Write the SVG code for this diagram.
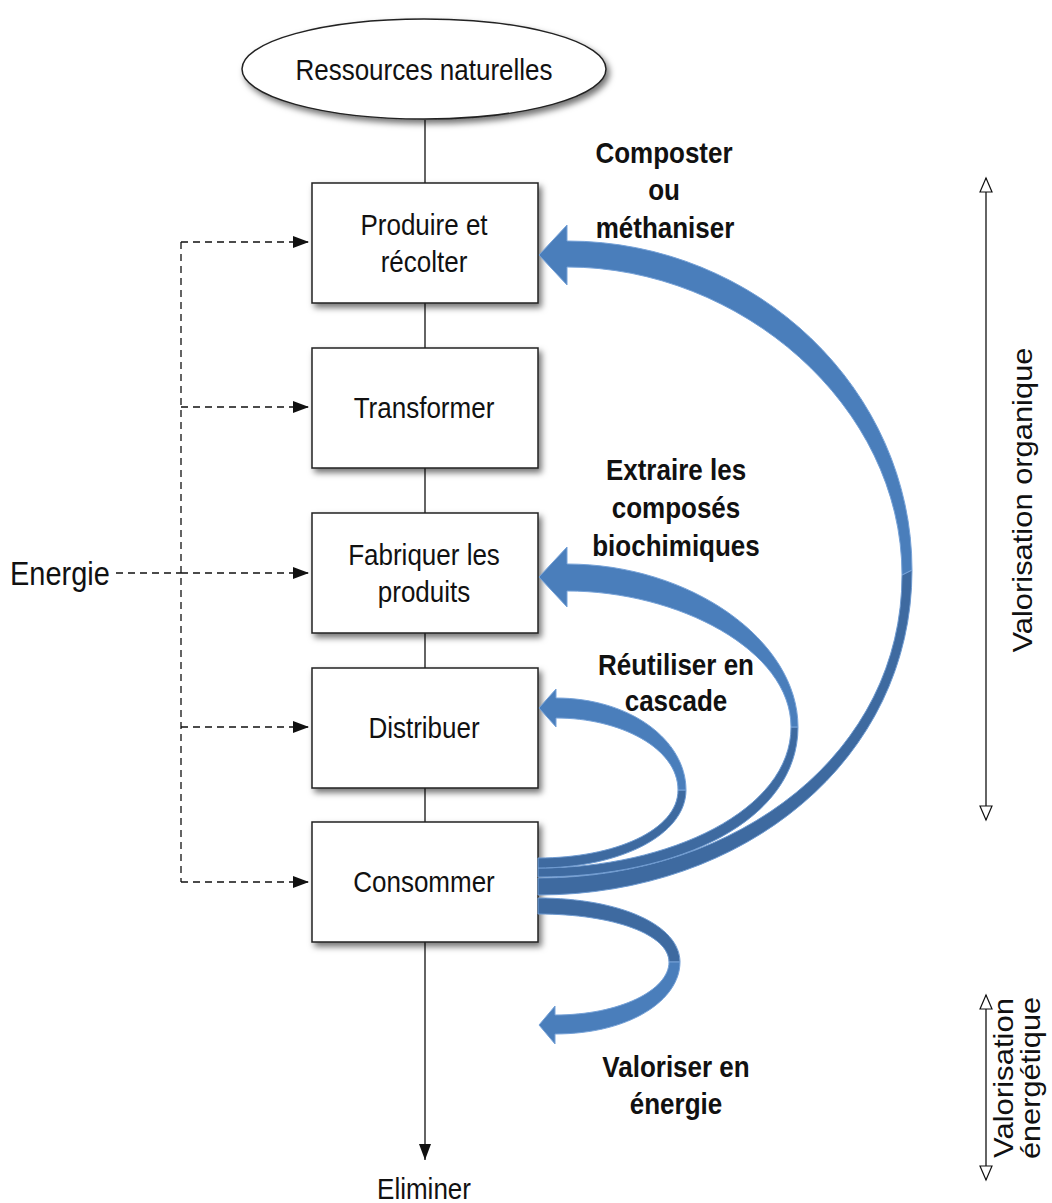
<svg xmlns="http://www.w3.org/2000/svg" width="1052" height="1203" viewBox="0 0 1052 1203">
<defs>
  <style>
    .t{font-family:"Liberation Sans",Arial,sans-serif;font-size:26px;fill:#111;text-anchor:middle}
    .b{font-weight:bold}
    .node{fill:#fff;stroke:#222;stroke-width:1.5;filter:url(#sh)}
    .line{stroke:#111;stroke-width:1.3;fill:none}
    .dash{stroke:#111;stroke-width:1.3;fill:none;stroke-dasharray:7 5}
    .front{fill:#4a7ebb;stroke:#76a2d8;stroke-width:1}
    .back{fill:#3e6aa0;stroke:#6f9bd1;stroke-width:1}
  </style>
  <filter id="sh" x="-10%" y="-10%" width="130%" height="140%">
    <feDropShadow dx="3" dy="4" stdDeviation="3" flood-color="#000" flood-opacity="0.55"/>
  </filter>
  <marker id="ah" markerUnits="userSpaceOnUse" markerWidth="16" markerHeight="12" refX="16" refY="6" orient="auto" overflow="visible">
    <path d="M0,0 L16,6 L0,12 z" fill="#111"/>
  </marker>
  <marker id="oh" markerUnits="userSpaceOnUse" markerWidth="14" markerHeight="12" refX="14" refY="6" orient="auto-start-reverse" overflow="visible">
    <path d="M0,0 L14,6 L0,12 z" fill="#fff" stroke="#111" stroke-width="1.2"/>
  </marker>
</defs>
<rect width="1052" height="1203" fill="#fff"/>

<g id="connectors">
  <line class="line" x1="425" y1="120" x2="425" y2="183"/>
  <line class="line" x1="425" y1="303" x2="425" y2="348"/>
  <line class="line" x1="425" y1="468" x2="425" y2="513"/>
  <line class="line" x1="425" y1="633" x2="425" y2="668"/>
  <line class="line" x1="425" y1="788" x2="425" y2="822"/>
  <line class="line" x1="425" y1="942" x2="425" y2="1160" marker-end="url(#ah)"/>
  <line class="dash" x1="116" y1="573" x2="181" y2="573"/>
  <line class="dash" x1="181" y1="242" x2="181" y2="882"/>
  <line class="dash" x1="181" y1="242" x2="309" y2="242" marker-end="url(#ah)"/>
  <line class="dash" x1="181" y1="407" x2="309" y2="407" marker-end="url(#ah)"/>
  <line class="dash" x1="181" y1="573" x2="309" y2="573" marker-end="url(#ah)"/>
  <line class="dash" x1="181" y1="727" x2="309" y2="727" marker-end="url(#ah)"/>
  <line class="dash" x1="181" y1="882" x2="309" y2="882" marker-end="url(#ah)"/>
  <line class="line" x1="986" y1="178" x2="986" y2="820" marker-start="url(#oh)" marker-end="url(#oh)"/>
  <line class="line" x1="986" y1="995" x2="986" y2="1180" marker-start="url(#oh)" marker-end="url(#oh)"/>
</g>

<g id="n-ressources">
  <ellipse class="node" cx="424" cy="69" rx="182" ry="50"/>
  <text class="t" transform="translate(424,80) scale(1,1.13)">Ressources naturelles</text>
</g>
<g id="n-produire">
  <rect class="node" x="312" y="183" width="226" height="120"/>
  <text class="t" transform="translate(424,235) scale(1,1.13)">Produire et</text>
  <text class="t" transform="translate(424,272) scale(1,1.13)">récolter</text>
</g>
<g id="n-transformer">
  <rect class="node" x="312" y="348" width="226" height="120"/>
  <text class="t" transform="translate(424,418) scale(1,1.13)">Transformer</text>
</g>
<g id="n-fabriquer">
  <rect class="node" x="312" y="513" width="226" height="120"/>
  <text class="t" transform="translate(424,565) scale(1,1.13)">Fabriquer les</text>
  <text class="t" transform="translate(424,602) scale(1,1.13)">produits</text>
</g>
<g id="n-distribuer">
  <rect class="node" x="312" y="668" width="226" height="120"/>
  <text class="t" transform="translate(424,738) scale(1,1.13)">Distribuer</text>
</g>
<g id="n-consommer">
  <rect class="node" x="312" y="822" width="226" height="120"/>
  <text class="t" transform="translate(424,892) scale(1,1.13)">Consommer</text>
</g>
<g id="n-eliminer">
  <text class="t" transform="translate(424,1199) scale(1,1.13)">Eliminer</text>
</g>
<g id="n-energie">
  <text class="t" style="text-anchor:start;font-size:29px" transform="translate(10,585) scale(1,1.12)">Energie</text>
</g>

<g id="blue-arrows">
  <!-- arrow 1: composter -->
  <path class="back" d="M538,895 C744,895 912,760 912,570 L902,575 C902,752 740,878 538,878 Z"/>
  <path class="front" d="M912,570 C912,390 757,241 567,241 L567,225 L539,255 L567,285 L567,267 C740,267 902,405 902,575 Z"/>
  <!-- arrow 2: extraire -->
  <path class="back" d="M538,877 C680,877 798,820 798,727 L791,727 C791,810 670,868 538,868 Z"/>
  <path class="front" d="M798,727 C798,640 690,564 567,564 L567,547 L539,577 L567,607 L567,591 C678,591 791,650 791,727 Z"/>
  <!-- arrow 3: reutiliser -->
  <path class="back" d="M538,868 C620,868 686,835 686,790 L678,790 C678,830 615,858 538,858 Z"/>
  <path class="front" d="M686,790 C686,740 630,698 556,698 L556,689 L539,708 L556,727 L556,718 C620,718 678,748 678,790 Z"/>
  <!-- arrow 4: valoriser en energie -->
  <path class="back" d="M538,898 C620,898 680,925 680,962 L669,962 C669,935 615,914 538,914 Z"/>
  <path class="front" d="M680,962 C680,1000 630,1034 555,1034 L555,1044 L539,1025 L555,1006 L555,1015 C620,1015 669,990 669,962 Z"/>
</g>

<g id="labels">
  <text class="t b" transform="translate(664,163) scale(1,1.13)">Composter</text>
  <text class="t b" transform="translate(664,200) scale(1,1.13)">ou</text>
  <text class="t b" transform="translate(665,238) scale(1,1.13)">méthaniser</text>
  <text class="t b" transform="translate(676,480) scale(1,1.13)">Extraire les</text>
  <text class="t b" transform="translate(676,518) scale(1,1.13)">composés</text>
  <text class="t b" transform="translate(676,556) scale(1,1.13)">biochimiques</text>
  <text class="t b" transform="translate(676,675) scale(1,1.13)">Réutiliser en</text>
  <text class="t b" transform="translate(676,711) scale(1,1.13)">cascade</text>
  <text class="t b" transform="translate(676,1077) scale(1,1.13)">Valoriser en</text>
  <text class="t b" transform="translate(676,1114) scale(1,1.13)">énergie</text>
</g>

<g id="axis-labels">
  <text class="t" style="font-size:28px" transform="translate(1032,500) rotate(-90)" textLength="305" lengthAdjust="spacingAndGlyphs">Valorisation organique</text>
  <text class="t" style="font-size:28px" transform="translate(1013,1078) rotate(-90)" textLength="160" lengthAdjust="spacingAndGlyphs">Valorisation</text>
  <text class="t" style="font-size:28px" transform="translate(1040,1078) rotate(-90)" textLength="162" lengthAdjust="spacingAndGlyphs">énergétique</text>
</g>
</svg>
